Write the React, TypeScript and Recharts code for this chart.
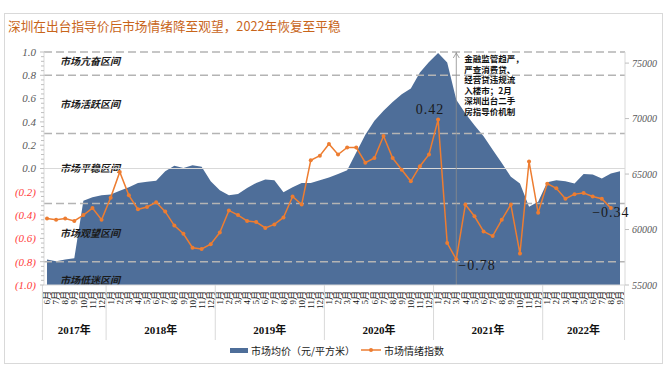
import React from 'react';
import { ComposedChart, Area, Line, XAxis, YAxis, ReferenceLine, ReferenceArea } from 'recharts';

// ---------- data ----------
const years = ['2017年', '2018年', '2019年', '2020年', '2021年', '2022年'];
const monthsByYear: string[][] = [
  ['6月', '7月', '8月', '9月', '10月', '11月', '12月'],
  ['1月', '2月', '3月', '4月', '5月', '6月', '7月', '8月', '9月', '10月', '11月', '12月'],
  ['1月', '2月', '3月', '4月', '5月', '6月', '7月', '8月', '9月', '10月', '11月', '12月'],
  ['1月', '2月', '3月', '4月', '5月', '6月', '7月', '8月', '9月', '10月', '11月', '12月'],
  ['1月', '2月', '3月', '4月', '5月', '6月', '7月', '8月', '9月', '10月', '11月', '12月'],
  ['1月', '2月', '3月', '4月', '5月', '6月', '7月', '8月', '9月'],
];
// 市场均价（元/平方米）
const priceByYear: number[][] = [
  [57300, 57150, 57300, 57400, 62600, 62900, 63100],
  [63150, 63500, 63800, 64200, 64300, 64400, 65250, 65750, 65550, 65800, 65650, 64350],
  [63550, 63100, 63200, 63750, 64200, 64500, 64450, 63350, 63800, 64200, 64200, 64450],
  [64700, 65000, 65350, 66950, 68550, 69800, 70700, 71500, 72200, 72700, 74150, 75100],
  [75900, 75050, 71700, 70450, 69400, 68400, 67200, 66000, 64750, 64150, 62050, 62500],
  [64250, 64450, 64350, 64150, 65000, 64950, 64600, 65050, 65250],
];
// 市场情绪指数
const sentimentByYear: (number | null)[][] = [
  [-0.43, -0.44, -0.43, -0.45, -0.40, -0.34, -0.44],
  [-0.25, -0.03, -0.23, -0.35, -0.33, -0.29, -0.37, -0.49, -0.56, -0.68, -0.69, -0.65],
  [-0.55, -0.36, -0.40, -0.45, -0.46, -0.51, -0.48, -0.42, -0.24, -0.31, 0.07, 0.11],
  [0.21, 0.12, 0.18, 0.18, 0.05, 0.09, 0.28, 0.09, -0.01, -0.11, 0.02, 0.12],
  [0.42, -0.64, -0.78, -0.31, -0.41, -0.54, -0.58, -0.44, -0.31, -0.73, 0.06, -0.38],
  [-0.13, -0.17, -0.26, -0.22, -0.21, -0.24, -0.26, -0.34, null],
];
const leftMajorTicks = [-1, -0.8, -0.6, -0.4, -0.2, 0, 0.2, 0.4, 0.6, 0.8, 1];
const rightTicks = [55000, 60000, 65000, 70000, 75000];
const zones = [
  { name: '市场亢奋区间', from: 0.8, to: 1.0 },
  { name: '市场活跃区间', from: 0.3, to: 0.8 },
  { name: '市场平稳区间', from: -0.3, to: 0.3 },
  { name: '市场观望区间', from: -0.8, to: -0.3 },
  { name: '市场低迷区间', from: -1.0, to: -0.8 },
];
const zoneBoundaries = [1.0, 0.8, 0.3, -0.3, -0.8];
const labeledKeys = ['2021-1月', '2021-3月', '2022-8月'];
const policyKey = '2021-3月';
const policyNote = ['金融监管趋严，', '严查消费贷、', '经营贷违规流', '入楼市；2月', '深圳出台二手', '房指导价机制'];
const title = '深圳在出台指导价后市场情绪降至观望，2022年恢复至平稳';
const seriesNames = ['市场均价（元/平方米）', '市场情绪指数'];

type Row = { key: string; month: string; year: string; yi: number; mi: number; count: number; price: number; sentiment: number | null };
const data: Row[] = [];
years.forEach((yr, yi) => {
  monthsByYear[yi].forEach((m, mi) => {
    data.push({
      key: `${yr.slice(0, 4)}-${m}`,
      month: m,
      year: yr,
      yi,
      mi,
      count: monthsByYear[yi].length,
      price: priceByYear[yi][mi],
      sentiment: sentimentByYear[yi][mi],
    });
  });
});

// minor ticks (every 0.04) for the left axis; majors are leftMajorTicks
const leftTicks: number[] = [];
for (let k = -25; k <= 25; k++) leftTicks.push(Math.round(k * 4) / 100);
const isMajor = (v: number) => leftMajorTicks.some((m) => Math.abs(m - v) < 1e-6);

// ---------- layout / style ----------
const W = 671;
const H = 369;
const MARGIN = { top: 52, right: 0, bottom: 34, left: 0 };
const LEFT_W = 44;
const RIGHT_W = 46;
const X_H = 50;
const PAD = { left: 3, right: 5 };
const STEP = (W - LEFT_W - RIGHT_W - PAD.left - PAD.right) / (data.length - 1);

const AREA_COLOR = '#4E6E99';
const LINE_COLOR = '#ED7D31';
const SERIF = "'Liberation Serif', 'DejaVu Serif', 'Noto Sans CJK SC', serif";
const CJK = "'Noto Sans CJK SC', sans-serif";

const labelStyle: Record<string, { dx: number; dy: number; anchor: 'start' | 'middle' | 'end' }> = {
  '2021-1月': { dx: -8, dy: -6, anchor: 'middle' },
  '2021-3月': { dx: 2, dy: 11, anchor: 'start' },
  '2022-8月': { dx: 0, dy: 9, anchor: 'middle' },
};
const zoneLabelDy = [-2, 0, 0, 1, 7];

const fmtSigned = (v: number) => (v < 0 ? '\u2212' + Math.abs(v).toFixed(2) : v.toFixed(2));

const LeftTick = (props: any) => {
  const { x, y, payload } = props;
  const v = payload.value as number;
  const major = isMajor(v);
  const axisX = x + 8;
  return (
    <g>
      <line x1={axisX - (major ? 4 : 3)} x2={axisX} y1={y} y2={y} stroke="#BFBFBF" strokeWidth={1} />
      {major && (
        <text x={x} y={y} dy="0.35em" textAnchor="end" fontFamily={SERIF} fontStyle="italic" fontSize={11}
          fill={v < 0 ? '#FF3B3B' : '#595959'}>
          {v < 0 ? `(${Math.abs(v).toFixed(1)})` : v.toFixed(1)}
        </text>
      )}
    </g>
  );
};

const MonthTick = (props: any) => {
  const { x, y, payload } = props;
  const idx = payload.index;
  const d = data[idx];
  if (!d) return null;
  const isLast = idx === data.length - 1;
  return (
    <g>
      <text transform={`translate(${x},${y}) rotate(-90)`} textAnchor="end" dy="0.35em"
        fontFamily={SERIF} fontSize={9} fill="#111">{d.month}</text>
      {d.mi === 0 && (
        <g>
          <line x1={x - STEP / 2} x2={x - STEP / 2} y1={y - 6} y2={y + 49} stroke="#D9D9D9" strokeWidth={1} />
          <text x={x + ((d.count - 1) / 2) * STEP} y={y + 43} textAnchor="middle" fontFamily={SERIF}
            fontWeight="bold" fontSize={11} fill="#111">{d.year}</text>
        </g>
      )}
      {isLast && <line x1={x + STEP / 2} x2={x + STEP / 2} y1={y - 6} y2={y + 49} stroke="#D9D9D9" strokeWidth={1} />}
    </g>
  );
};

const renderPointLabel = (props: any) => {
  const { x, y, index, value } = props;
  const d = data[index];
  if (!d || value == null || !labeledKeys.includes(d.key)) return null;
  const s = labelStyle[d.key];
  return (
    <text key={`lbl-${index}`} x={x + s.dx} y={y + s.dy} textAnchor={s.anchor} fontFamily={SERIF}
      fontSize={14} letterSpacing={1} fill="#1a1a1a">{fmtSigned(value)}</text>
  );
};

const ZoneLabel = (props: any) => {
  const { viewBox, text, dy } = props;
  if (!viewBox) return null;
  return (
    <text x={viewBox.x + 13} y={viewBox.y + viewBox.height / 2 + dy} dy="0.35em" fontFamily={CJK}
      fontStyle="italic" fontWeight="bold" fontSize={10} fill="#1a1a1a">{text}</text>
  );
};

const PolicyLine = (props: any) => {
  const { x1, y1, x2, y2 } = props;
  const top = Math.min(y1, y2);
  const bottom = Math.max(y1, y2);
  const x = x1;
  return (
    <g>
      <line x1={x} y1={top} x2={x2} y2={bottom} stroke="#8C8C8C" strokeWidth={0.8} />
      <path d={`M${x - 3},${top + 6} L${x},${top + 1} L${x + 3},${top + 6}`} fill="none" stroke="#8C8C8C" strokeWidth={0.8} />
      {policyNote.map((t, i) => (
        <text key={i} x={x + 8} y={top + 10 + i * 10.6} fontFamily={CJK} fontWeight="bold" fontSize={8.5} fill="#111">{t}</text>
      ))}
    </g>
  );
};

export default function App() {
  return (
    <div style={{ position: 'absolute', left: 0, top: 0, width: W, height: H, background: '#fff' }}>
      <div style={{ position: 'absolute', left: 4, top: 13, width: 659, height: 351, border: '1px solid #D9D9D9', boxSizing: 'border-box' }} />
      <div style={{ position: 'absolute', left: 8, top: 18, fontFamily: CJK, fontSize: 12.7, lineHeight: '16px', color: '#C8651B', whiteSpace: 'nowrap' }}>
        {title}
      </div>
      <div style={{ position: 'absolute', left: 0, top: 0 }}>
        <ComposedChart width={W} height={H} data={data} margin={MARGIN}>
          <XAxis dataKey="key" scale="point" interval={0} height={X_H} padding={PAD} tickLine={false}
            tickSize={0} tickMargin={6} axisLine={{ stroke: '#D9D9D9' }} tick={<MonthTick />} />
          <YAxis yAxisId="left" orientation="left" width={LEFT_W} domain={[-1, 1]} ticks={leftTicks} interval={0}
            allowDataOverflow tickLine={false} tickSize={4} tickMargin={4} axisLine={{ stroke: '#D9D9D9' }} tick={<LeftTick />} />
          <YAxis yAxisId="right" orientation="right" width={RIGHT_W} domain={[55000, 76000]} ticks={rightTicks}
            interval={0} allowDataOverflow tickSize={4} tickMargin={3} tickLine={{ stroke: '#BFBFBF' }}
            axisLine={{ stroke: '#D9D9D9' }}
            tick={{ fontFamily: SERIF, fontStyle: 'italic', fontSize: 10, fill: '#595959' }} />
          <Area yAxisId="right" type="linear" dataKey="price" name={seriesNames[0]} fill={AREA_COLOR} fillOpacity={1}
            stroke="none" isAnimationActive={false} dot={false} activeDot={false} />
          {zones.map((z, i) => (
            <ReferenceArea key={z.name} yAxisId="left" y1={z.from} y2={z.to} fill="none" fillOpacity={0} stroke="none"
              label={<ZoneLabel text={z.name} dy={zoneLabelDy[i]} />} />
          ))}
          <ReferenceLine yAxisId="left" y={0} stroke="#D9D9D9" strokeWidth={1} />
          {zoneBoundaries.map((b) => (
            <ReferenceLine key={b} yAxisId="left" y={b} stroke="#B4B4B4" strokeWidth={1.5} strokeDasharray="8 4" />
          ))}
          <ReferenceLine yAxisId="left" x={policyKey} shape={<PolicyLine />} />
          <Line yAxisId="left" type="linear" dataKey="sentiment" name={seriesNames[1]} stroke={LINE_COLOR} strokeWidth={1.5}
            dot={{ r: 2, fill: LINE_COLOR, stroke: LINE_COLOR, strokeWidth: 0 }} activeDot={false}
            isAnimationActive={false} label={renderPointLabel} />
        </ComposedChart>
      </div>
      <div style={{ position: 'absolute', left: 230, top: 342, height: 16, display: 'flex', alignItems: 'center', fontFamily: CJK, fontSize: 10, color: '#222', whiteSpace: 'nowrap' }}>
        <span style={{ display: 'inline-block', width: 18, height: 5, background: AREA_COLOR, marginRight: 3 }} />
        <span>{seriesNames[0]}</span>
        <svg width={20} height={8} style={{ marginLeft: 6, marginRight: 3 }}>
          <line x1={0} y1={4} x2={20} y2={4} stroke={LINE_COLOR} strokeWidth={1.5} />
          <circle cx={10} cy={4} r={2} fill={LINE_COLOR} />
        </svg>
        <span>{seriesNames[1]}</span>
      </div>
    </div>
  );
}
